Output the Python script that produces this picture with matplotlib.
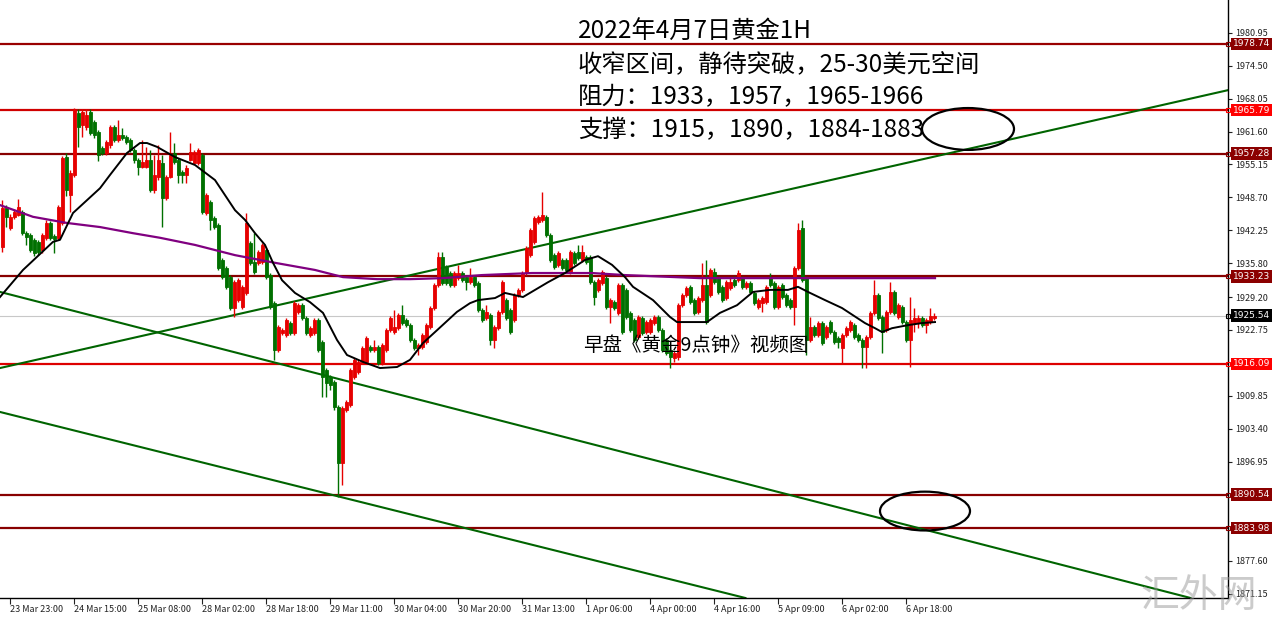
import numpy as np
import matplotlib.pyplot as plt
from matplotlib.patches import Ellipse
import matplotlib.transforms as mtransforms

plt.rcParams['font.family'] = ['Noto Sans CJK SC', 'DejaVu Sans']

# ***** XAUUSD H1 bars
opens = [
    1939.0, 1946.6, 1942.7, 1944.9, 1945.3, 1945.9, 1941.7, 1941.3, 1940.4, 1940.0,
    1938.4, 1940.8, 1943.7, 1941.2, 1940.8, 1943.7, 1956.6, 1949.2, 1953.1, 1965.2,
    1962.9, 1962.5, 1965.4, 1963.5, 1961.5, 1958.4, 1957.4, 1959.0, 1962.5, 1959.9,
    1960.9, 1960.5, 1959.9, 1958.0, 1956.0, 1954.7, 1954.7, 1956.0, 1950.2, 1952.7,
    1955.4, 1948.6, 1952.7, 1957.4, 1956.0, 1953.7, 1953.1, 1956.0, 1955.4, 1955.4,
    1957.0, 1945.7, 1947.8, 1944.7, 1943.3, 1936.5, 1934.9, 1933.1, 1927.1, 1928.6,
    1927.2, 1930.0, 1939.8, 1936.1, 1935.9, 1936.1, 1938.4, 1933.5, 1928.0, 1918.8,
    1922.2, 1921.8, 1924.1, 1922.2, 1926.3, 1927.6, 1925.1, 1921.8, 1922.2, 1924.7,
    1920.4, 1914.9, 1913.5, 1912.6, 1907.7, 1896.7, 1907.1, 1908.1, 1913.5, 1914.5,
    1916.5, 1916.5, 1919.4, 1918.8, 1919.4, 1916.3, 1918.8, 1922.7, 1922.4, 1923.1,
    1925.7, 1924.7, 1923.7, 1920.8, 1919.2, 1919.4, 1920.4, 1923.3, 1927.1, 1931.6,
    1937.0, 1935.1, 1933.9, 1931.6, 1932.9, 1933.9, 1933.1, 1932.1, 1933.1, 1931.9,
    1926.7, 1925.1, 1925.7, 1920.8, 1923.1, 1926.3, 1928.6, 1926.7, 1924.7, 1929.6,
    1930.6, 1933.9, 1937.4, 1940.0, 1943.9, 1944.3, 1944.9, 1941.3, 1937.4, 1935.5,
    1936.5, 1936.5, 1934.1, 1937.8, 1938.0, 1936.5, 1937.0, 1937.0, 1932.1, 1930.6,
    1932.0, 1932.9, 1927.2, 1928.2, 1926.1, 1931.6, 1930.6, 1926.1, 1924.7, 1921.4,
    1925.1, 1922.4, 1922.4, 1924.1, 1925.3, 1922.7, 1920.8, 1918.8, 1917.3, 1917.5,
    1927.6, 1929.6, 1931.2, 1928.6, 1926.3, 1928.6, 1931.6, 1929.6, 1934.1, 1932.9,
    1931.2, 1929.0, 1931.0, 1932.5, 1932.5, 1932.9, 1931.2, 1931.9, 1930.0, 1927.2,
    1928.0, 1928.2, 1933.1, 1931.9, 1927.2, 1931.6, 1929.6, 1928.6, 1927.2, 1934.9,
    1942.7, 1932.9, 1920.8, 1923.3, 1921.8, 1924.1, 1921.4, 1924.3, 1922.4, 1921.2,
    1919.2, 1921.8, 1922.7, 1923.7, 1921.8, 1920.8, 1919.4, 1921.4, 1926.1, 1929.6,
    1925.3, 1922.7, 1926.3, 1930.2, 1925.3, 1927.2, 1924.3, 1920.8, 1924.1, 1924.1,
    1925.1, 1923.7, 1924.3, 1925.1]
highs = [
    1948.2, 1947.2, 1945.5, 1946.4, 1948.4, 1946.2, 1942.1, 1941.7, 1940.8, 1940.4,
    1941.7, 1944.3, 1944.1, 1941.5, 1947.2, 1956.8, 1957.4, 1954.1, 1966.2, 1966.0,
    1966.0, 1966.0, 1966.0, 1963.9, 1961.9, 1958.8, 1959.9, 1962.9, 1962.9, 1963.9,
    1962.3, 1960.9, 1960.3, 1958.4, 1956.4, 1959.9, 1958.6, 1958.0, 1957.0, 1959.0,
    1957.0, 1953.1, 1961.5, 1959.4, 1956.4, 1954.1, 1955.0, 1959.4, 1958.0, 1958.4,
    1957.4, 1949.6, 1948.2, 1945.1, 1943.7, 1936.8, 1935.3, 1933.5, 1932.5, 1932.9,
    1931.6, 1945.7, 1940.2, 1941.7, 1938.4, 1939.8, 1938.8, 1933.9, 1928.4, 1923.7,
    1923.1, 1925.1, 1924.5, 1928.4, 1928.0, 1928.0, 1925.5, 1923.5, 1925.1, 1925.1,
    1920.8, 1915.3, 1913.9, 1913.0, 1908.1, 1907.9, 1909.1, 1915.3, 1917.3, 1916.9,
    1919.6, 1921.6, 1919.8, 1920.8, 1919.8, 1920.2, 1923.1, 1925.5, 1926.7, 1926.1,
    1927.6, 1925.1, 1924.1, 1921.2, 1920.2, 1922.2, 1924.1, 1927.4, 1932.0, 1938.0,
    1938.0, 1935.5, 1934.3, 1934.3, 1935.5, 1934.3, 1933.5, 1934.9, 1933.5, 1932.3,
    1927.1, 1927.6, 1926.1, 1923.7, 1926.7, 1932.5, 1929.0, 1927.1, 1930.0, 1931.0,
    1934.3, 1939.2, 1942.7, 1945.1, 1945.3, 1949.8, 1945.3, 1941.7, 1937.8, 1938.2,
    1936.8, 1936.8, 1938.4, 1938.2, 1939.4, 1939.4, 1937.4, 1937.4, 1932.5, 1932.9,
    1934.5, 1933.3, 1929.0, 1928.6, 1931.9, 1931.9, 1931.0, 1926.5, 1925.1, 1925.7,
    1925.5, 1924.7, 1925.1, 1925.7, 1925.7, 1923.1, 1921.2, 1919.2, 1918.6, 1928.0,
    1930.0, 1931.4, 1931.6, 1929.0, 1929.4, 1935.9, 1936.5, 1934.9, 1934.9, 1933.3,
    1931.6, 1932.5, 1932.9, 1933.3, 1934.5, 1933.3, 1932.3, 1932.3, 1930.4, 1929.0,
    1929.4, 1931.6, 1933.9, 1932.3, 1931.6, 1931.9, 1930.0, 1929.0, 1935.3, 1943.7,
    1944.3, 1933.3, 1925.3, 1923.7, 1924.5, 1924.5, 1923.7, 1924.7, 1922.7, 1921.6,
    1922.2, 1923.5, 1924.7, 1924.1, 1922.2, 1921.2, 1921.8, 1926.5, 1932.5, 1930.0,
    1925.7, 1926.7, 1932.1, 1930.6, 1928.0, 1927.6, 1924.7, 1929.2, 1927.1, 1925.7,
    1925.5, 1925.1, 1927.1, 1926.1]
lows = [
    1938.0, 1942.9, 1942.3, 1944.5, 1945.1, 1941.3, 1939.4, 1938.0, 1937.2, 1937.4,
    1937.8, 1940.4, 1940.4, 1937.8, 1940.4, 1943.3, 1949.0, 1945.9, 1952.7, 1958.6,
    1960.5, 1961.9, 1960.9, 1960.3, 1955.8, 1957.0, 1957.0, 1958.4, 1959.6, 1959.6,
    1959.9, 1959.2, 1957.6, 1955.4, 1953.1, 1954.5, 1954.5, 1949.8, 1949.6, 1952.1,
    1942.9, 1948.2, 1952.5, 1955.2, 1951.5, 1951.5, 1951.5, 1955.8, 1955.2, 1955.0,
    1945.5, 1945.3, 1942.3, 1942.5, 1934.5, 1932.7, 1930.8, 1926.7, 1925.3, 1928.2,
    1926.9, 1929.6, 1935.5, 1933.7, 1935.5, 1935.7, 1932.7, 1926.9, 1916.9, 1918.4,
    1921.8, 1921.4, 1921.8, 1921.8, 1925.9, 1924.7, 1921.8, 1921.4, 1921.8, 1918.4,
    1909.6, 1909.6, 1911.0, 1907.1, 1890.1, 1892.4, 1906.7, 1907.7, 1913.2, 1914.1,
    1916.1, 1916.1, 1918.4, 1918.4, 1915.9, 1915.9, 1918.4, 1922.4, 1922.0, 1922.7,
    1923.7, 1923.3, 1920.4, 1918.8, 1917.9, 1919.0, 1920.0, 1922.9, 1926.7, 1931.2,
    1931.6, 1931.6, 1931.2, 1931.2, 1932.5, 1932.1, 1930.6, 1931.8, 1931.2, 1926.3,
    1924.3, 1924.7, 1919.8, 1919.2, 1922.7, 1925.9, 1924.7, 1921.9, 1924.3, 1929.2,
    1930.2, 1933.5, 1937.0, 1939.6, 1943.5, 1943.9, 1940.9, 1936.1, 1934.7, 1935.1,
    1934.5, 1934.1, 1933.7, 1935.5, 1936.5, 1936.1, 1935.7, 1931.8, 1927.6, 1930.2,
    1931.6, 1926.9, 1924.1, 1926.7, 1925.7, 1922.0, 1924.9, 1922.4, 1920.4, 1921.0,
    1921.8, 1922.0, 1922.0, 1923.7, 1922.4, 1918.4, 1917.9, 1915.3, 1916.5, 1916.9,
    1927.2, 1929.2, 1927.8, 1925.7, 1925.9, 1928.2, 1923.9, 1929.2, 1931.8, 1929.8,
    1928.2, 1928.6, 1930.6, 1931.2, 1932.1, 1930.8, 1930.8, 1929.8, 1927.6, 1926.9,
    1926.3, 1927.8, 1931.2, 1926.9, 1926.9, 1928.8, 1927.2, 1926.9, 1923.7, 1934.5,
    1932.1, 1917.9, 1920.4, 1921.4, 1921.4, 1919.8, 1921.0, 1922.0, 1920.0, 1919.2,
    1916.3, 1921.4, 1922.4, 1921.0, 1920.4, 1915.3, 1915.3, 1921.0, 1925.7, 1924.7,
    1918.2, 1922.4, 1925.9, 1925.7, 1924.9, 1923.9, 1920.4, 1915.5, 1922.4, 1923.1,
    1923.3, 1922.2, 1923.9, 1924.7]
closes = [
    1946.6, 1944.9, 1944.9, 1945.9, 1946.8, 1941.7, 1941.0, 1938.4, 1937.8, 1938.0,
    1941.3, 1943.7, 1940.8, 1940.6, 1946.8, 1956.4, 1950.2, 1953.5, 1965.8, 1962.5,
    1965.4, 1964.8, 1961.3, 1960.9, 1957.0, 1957.4, 1959.6, 1962.5, 1959.9, 1960.9,
    1960.3, 1959.6, 1958.0, 1956.0, 1954.7, 1955.6, 1956.0, 1950.2, 1953.1, 1956.0,
    1948.6, 1952.7, 1957.0, 1955.6, 1953.1, 1953.1, 1954.5, 1957.6, 1957.6, 1958.0,
    1945.9, 1949.2, 1944.3, 1942.9, 1934.9, 1933.1, 1931.2, 1927.1, 1932.1, 1932.5,
    1931.2, 1943.7, 1935.9, 1934.1, 1938.0, 1939.4, 1933.1, 1927.2, 1918.8, 1923.3,
    1922.7, 1924.7, 1922.2, 1928.0, 1927.6, 1925.1, 1922.2, 1923.1, 1924.7, 1918.8,
    1913.5, 1912.4, 1912.0, 1907.7, 1896.7, 1907.5, 1908.6, 1914.9, 1916.9, 1916.5,
    1919.2, 1921.2, 1918.8, 1919.4, 1916.3, 1919.8, 1922.7, 1925.1, 1923.3, 1925.7,
    1924.1, 1923.7, 1920.8, 1919.2, 1919.8, 1921.8, 1923.7, 1927.1, 1931.6, 1937.0,
    1932.0, 1932.0, 1931.6, 1933.9, 1933.9, 1932.5, 1932.1, 1933.1, 1931.6, 1926.7,
    1924.7, 1926.3, 1920.8, 1923.3, 1926.3, 1932.1, 1925.1, 1922.4, 1929.6, 1930.6,
    1933.9, 1938.8, 1942.3, 1944.7, 1944.9, 1945.3, 1941.3, 1936.5, 1935.1, 1937.8,
    1934.9, 1934.5, 1938.0, 1935.9, 1936.8, 1938.0, 1936.1, 1932.1, 1929.2, 1932.5,
    1934.1, 1927.2, 1928.6, 1927.1, 1931.6, 1922.4, 1925.3, 1922.7, 1920.8, 1925.3,
    1922.2, 1924.3, 1924.7, 1925.3, 1922.7, 1918.8, 1918.2, 1917.5, 1918.2, 1927.6,
    1929.6, 1931.0, 1928.2, 1926.1, 1929.0, 1931.6, 1924.3, 1934.5, 1932.1, 1930.2,
    1928.6, 1932.1, 1932.1, 1931.6, 1933.9, 1931.2, 1931.9, 1930.2, 1928.0, 1928.6,
    1929.0, 1931.2, 1931.6, 1927.2, 1931.2, 1929.2, 1927.6, 1927.2, 1934.9, 1942.3,
    1932.5, 1920.8, 1923.3, 1921.8, 1924.1, 1920.2, 1923.3, 1922.4, 1920.4, 1920.4,
    1921.8, 1923.1, 1924.3, 1921.4, 1920.8, 1919.4, 1921.4, 1926.1, 1929.6, 1925.1,
    1922.4, 1926.3, 1930.2, 1926.1, 1927.6, 1924.3, 1920.8, 1924.7, 1925.1, 1925.1,
    1923.7, 1924.7, 1925.5, 1925.5]

# moving averages, sampled (bar index, price)
ma_fast_bar = [-0.5, 5.25, 12.75, 14.5, 17.75, 24.5, 27, 31.25, 34.5, 36.25, 38.75, 43.25,
               48.25, 53.25, 58.25, 60.75, 63.25, 65.75, 67.75, 70, 73.25, 77, 80.25, 83.75,
               86.25, 90.25, 94.5, 98.75, 102, 105.25, 108.75, 113.75, 117, 119, 123.25,
               125.75, 130.25, 136.5, 140.75, 145.75, 149, 152.5, 155.75, 157.75, 162.75,
               167, 168.75, 176.25, 179.5, 183.75, 187.75, 192, 196.5, 199, 201.5, 205.75,
               210, 215.75, 218.25, 220, 222.5, 226.5, 230, 233.25]
ma_fast_val = [1929.2, 1934.5, 1940.0, 1940.4, 1945.65, 1950.5, 1953.1, 1957.4, 1959.35,
               1959.35, 1958.6, 1956.6, 1955.05, 1952.1, 1946.2, 1944.3, 1941.7, 1939.4,
               1935.9, 1932.5, 1930.0, 1928.2, 1926.1, 1920.8, 1917.85, 1916.5, 1915.3,
               1915.5, 1916.9, 1920.2, 1922.7, 1926.3, 1928.0, 1928.6, 1929.0, 1930.0,
               1929.2, 1932.1, 1933.9, 1936.45, 1937.2, 1935.5, 1933.1, 1931.2, 1928.6,
               1925.3, 1924.3, 1924.3, 1926.1, 1927.6, 1930.2, 1930.6, 1930.6, 1931.2,
               1930.2, 1928.6, 1927.05, 1924.1, 1923.1, 1922.35, 1923.1, 1923.7, 1924.1,
               1924.3]
ma_slow_bar = [-0.5, 7.75, 16.25, 24.5, 32.75, 39.5, 48.25, 58.25, 68.25, 78.25, 85.25,
               93.75, 102, 110.25, 120, 132.5, 147.5, 155.75, 174.5, 194.5, 233.25]
ma_slow_val = [1947.2, 1944.9, 1943.7, 1942.9, 1941.7, 1940.8, 1939.4, 1937.4, 1935.9,
               1934.5, 1933.1, 1932.7, 1932.7, 1932.9, 1933.5, 1933.9, 1933.9, 1933.5,
               1932.9, 1932.9, 1932.9]

# horizontal levels and their axis boxes
levels = [1978.74, 1965.79, 1957.28, 1933.23, 1916.09, 1890.54, 1883.98]
level_colors = ['#990000', '#d00000', '#880000', '#880000', '#dd0000', '#880000', '#880000']
box_colors = ['#8b0000', '#ff0000', '#8b0000', '#8b0000', '#ff0000', '#8b0000', '#8b0000']
last_price = 1925.54

# trend lines, two anchor points each (bar, price)
trend_lines = [((-0.5, 1915.3), (306.5, 1969.7)),
               ((-0.5, 1930.2), (306.5, 1868.4)),
               ((-0.5, 1906.7), (185.75, 1870.3))]

# ellipses: (bar, price, width in bars, height in $)
ellipses = [(241.5, 1962.1, 23.0, 8.2), (230.75, 1887.3, 22.5, 7.6)]

yticks = [1980.95, 1974.50, 1968.05, 1961.60, 1955.15, 1948.70, 1942.25, 1935.80,
          1929.20, 1922.75, 1909.85, 1903.40, 1896.95, 1877.60, 1871.15]
xtick_bars = [2, 18, 34, 50, 66, 82, 98, 114, 130, 146, 162, 178, 194, 210, 226]
xtick_labels = ['23 Mar 23:00', '24 Mar 15:00', '25 Mar 08:00', '28 Mar 02:00',
                '28 Mar 18:00', '29 Mar 11:00', '30 Mar 04:00', '30 Mar 20:00',
                '31 Mar 13:00', '1 Apr 06:00', '4 Apr 00:00', '4 Apr 16:00',
                '5 Apr 09:00', '6 Apr 02:00', '6 Apr 18:00']

title_lines = ['2022年4月7日黄金1H', '收窄区间，静待突破，25-30美元空间',
               '阻力：1933，1957，1965-1966', '支撑：1915，1890，1884-1883']
note = '早盘《黄金9点钟》视频图'

# %%%%%%%%%%%%%%%% plotting section %%%%%%%%%%%%%%%%%%%%%%%%%%
W, H = 1273, 617
fig = plt.figure(figsize=(W / 100, H / 100), dpi=100)
ax = fig.add_axes([0, 19 / H, 1228 / W, 598 / H])

o = np.array(opens); h = np.array(highs); l = np.array(lows); c = np.array(closes)
x = np.arange(len(o))
up = c >= o
cols = np.where(up, '#e60000', '#007000')

# levels first so candles sit on top
for lev, lc in zip(levels, level_colors):
    ax.axhline(lev, color=lc, lw=1.6, zorder=1)
ax.axhline(last_price, color='#c8c8c8', lw=0.8, zorder=1)

for p1, p2 in trend_lines:
    ax.axline(p1, p2, color='#006400', lw=1.5, zorder=2)

ax.vlines(x, l, h, colors=cols, lw=1.0, zorder=3)
ax.bar(x, c - o, bottom=o, width=0.75, color=cols, edgecolor=cols, lw=0.6, zorder=4)

ax.plot(ma_slow_bar, ma_slow_val, color='#800080', lw=1.6, zorder=5)
ax.plot(ma_fast_bar, ma_fast_val, color='black', lw=1.4, zorder=5)

for bx, by, ew, eh in ellipses:
    ax.add_patch(Ellipse((bx, by), ew, eh, fill=False, ec='black', lw=1.6, zorder=6))

ax.set_xlim(-0.5, 306.5)
ax.set_ylim(1870.28, 1987.35)

ax.spines['top'].set_visible(False)
ax.spines['left'].set_visible(False)
ax.spines['right'].set_linewidth(1.0)
ax.spines['bottom'].set_linewidth(1.0)

ax.yaxis.tick_right()
ax.set_yticks(yticks)
ax.set_yticklabels([f'{v:.2f}' for v in yticks])
ax.tick_params(axis='y', labelsize=6.5, length=3, pad=2, colors='#222222')
ax.set_xticks(xtick_bars)
ax.set_xticklabels(xtick_labels)
ax.tick_params(axis='x', labelsize=6.5, length=4, pad=1, colors='#222222')
for lab in ax.get_xticklabels():
    lab.set_horizontalalignment('left')

# price boxes on the right axis
trans = mtransforms.blended_transform_factory(ax.transAxes, ax.transData)
for lev, bc in zip(levels + [last_price], box_colors + ['black']):
    ax.text(1.0 + 5 / 1228, lev, f'{lev:.2f}', transform=trans, color='white',
            fontsize=6.5, va='center', ha='left', clip_on=False, zorder=10,
            family='DejaVu Sans',
            bbox=dict(boxstyle='square,pad=0.2', fc=bc, ec='none'))
    ax.plot([1.0], [lev], transform=trans, marker='s', ms=3, mfc='none',
            mec=bc, mew=0.8, clip_on=False, zorder=9)

# annotations
for i, line in enumerate(title_lines):
    fig.text(578 / W, 1 - (32 + 32.7 * i) / H, line, fontsize=17.5, va='center',
             ha='left', color='black')
fig.text(583 / W, 1 - 345 / H, note, fontsize=14, va='center', ha='left', color='black')
fig.text(1140 / W, 1 - 596 / H, '汇外网', fontsize=28, va='center', ha='left',
         color='#999999', alpha=0.5, zorder=0)

fig.savefig('out.png', dpi=100)
